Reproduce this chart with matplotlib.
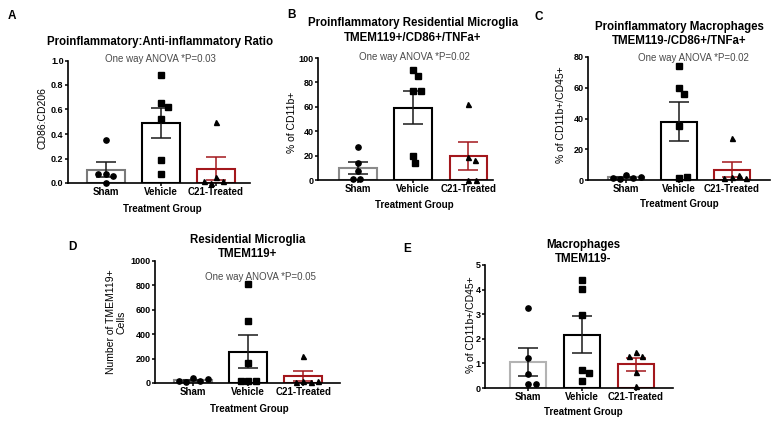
import numpy as np
import matplotlib
matplotlib.use('Agg')
import matplotlib.pyplot as plt

plt.rcParams['font.family'] = ['Liberation Sans', 'DejaVu Sans']

# ---------------- data ----------------
groups = ['Sham', 'Vehicle', 'C21-Treated']

a_sham = [0.35, 0.07, 0.06, 0.07, 0.0]
a_vehicle = [0.88, 0.65, 0.62, 0.52, 0.19, 0.07]
a_c21 = [0.50, 0.05, 0.02, 0.0, 0.02]

b_sham = [27, 14, 7, 1, 1]
b_vehicle = [90, 85, 73, 73, 20, 14]
b_c21 = [62, 19, 16, 0, 0]

c_sham = [3.5, 1.5, 0.5, 1.0, 2.0]
c_vehicle = [74, 60, 56, 35, 1, 2]
c_c21 = [27, 2, 3, 1, 1]

d_sham = [40, 20, 5, 15, 30]
d_vehicle = [810, 505, 160, 20, 15, 20]
d_c21 = [220, 20, 10, 5, 15]

e_sham = [3.25, 1.2, 0.55, 0.15, 0.15]
e_vehicle = [4.37, 4.02, 2.95, 0.75, 0.6, 0.27]
e_c21 = [1.48, 1.3, 1.3, 0.65, 0.08]

anova = ['One way ANOVA *P=0.03', 'One way ANOVA *P=0.02',
         'One way ANOVA *P=0.02', 'One way ANOVA *P=0.05', None]
titles = ['Proinflammatory:Anti-inflammatory Ratio',
          'Proinflammatory Residential Microglia\nTMEM119+/CD86+/TNFa+',
          'Proinflammatory Macrophages\nTMEM119-/CD86+/TNFa+',
          'Residential Microglia\nTMEM119+',
          'Macrophages\nTMEM119-']
ylabels = ['CD86:CD206', '% of CD11b+', '% of CD11b+/CD45+',
           'Number of TMEM119+\nCells', '% of CD11b+/CD45+']
letters = ['A', 'B', 'C', 'D', 'E']
xlabel = 'Treatment Group'

# ---------------- layout (pixels) ----------------
W, H = 784, 424
fig = plt.figure(figsize=(W / 100, H / 100), dpi=100)

RED = '#a3171c'
DARK = '#1a1a1a'
ANN = '#4a4a4a'

panels = [
    dict(data=[a_sham, a_vehicle, a_c21], box=(68, 250, 60.5, 183), xlim=(-0.69, 2.62),
         ymax=1.0, ystep=0.2, fmt='{:.1f}', sham_col='#7a7a7a',
         letter=(12, 16), title=(160, 42), ann=(160, 59), ylab=(43, 118), xlab=(162, 209)),
    dict(data=[b_sham, b_vehicle, b_c21], box=(318, 493, 58, 180), xlim=(-0.73, 2.45),
         ymax=100, ystep=20, fmt='{:.0f}', sham_col='#8a8a8a',
         letter=(292, 15), title=(413, 30.5), ann=(414, 57.5), ylab=(292, 122), xlab=(414, 205)),
    dict(data=[c_sham, c_vehicle, c_c21], box=(588, 770, 57, 180), xlim=(-0.72, 2.72),
         ymax=80, ystep=20, fmt='{:.0f}', sham_col='#8a8a8a',
         letter=(539, 16.5), title=(679, 34), ann=(693, 58), ylab=(561, 115), xlab=(679, 204)),
    dict(data=[d_sham, d_vehicle, d_c21], box=(155, 340, 261, 383), xlim=(-0.69, 2.67),
         ymax=1000, ystep=200, fmt='{:.0f}', sham_col='#8a8a8a',
         letter=(72.5, 247.5), title=(248, 247), ann=(260, 277), ylab=(116.5, 322), xlab=(249, 409)),
    dict(data=[e_sham, e_vehicle, e_c21], box=(485, 673, 265, 388), xlim=(-0.8, 2.69),
         ymax=5, ystep=1, fmt='{:.0f}', sham_col='#b3b3b3',
         letter=(407, 249), title=(583, 252), ann=None, ylab=(470.5, 325), xlab=(583.5, 412)),
]

markers = ['o', 's', '^']
msizes = [3.8, 3.8, 3.6]


def ftext(x, y, s, **kw):
    fig.text(x / W, 1 - y / H, s, ha='center', va='center', **kw)


def swarm(ax, xc, values, d):
    """Simple beeswarm in pixel space: spread colliding points sideways."""
    tr = ax.transData
    placed = []
    xs = []
    for v in values:
        px, py = tr.transform((xc, v))
        best = None
        k = 0
        while best is None:
            for sgn in ([0] if k == 0 else [1, -1]):
                x = px + sgn * k * 0.5
                if all((x - qx) ** 2 + (py - qy) ** 2 >= d * d for qx, qy in placed):
                    best = x
                    break
            k += 1
        placed.append((best, py))
        xs.append(tr.inverted().transform((best, py))[0])
    return xs


for i, p in enumerate(panels):
    l, r, t, b = p['box']
    ax = fig.add_axes([l / W, 1 - b / H, (r - l) / W, (b - t) / H])
    ax.set_xlim(*p['xlim'])
    ax.set_ylim(0, p['ymax'])
    for s in ['top', 'right']:
        ax.spines[s].set_visible(False)
    for s in ['left', 'bottom']:
        ax.spines[s].set_linewidth(1.2)
        ax.spines[s].set_color('black')
    ticks = np.arange(0, p['ymax'] + p['ystep'] / 2, p['ystep'])
    ax.set_yticks(ticks)
    ax.set_yticklabels([p['fmt'].format(v) for v in ticks], fontsize=6.5, fontweight='bold')
    ax.set_xticks(range(3))
    ax.set_xticklabels(groups, fontsize=7, fontweight='bold')
    ax.tick_params(axis='both', length=2, width=1.1, pad=1.2, direction='out')
    ax.patch.set_alpha(0)

    edge_cols = [p['sham_col'], 'black', RED]
    err_cols = [DARK, DARK, RED]
    for g, vals in enumerate(p['data']):
        vals = np.asarray(vals, dtype=float)
        mean = vals.mean()
        sem = vals.std(ddof=1) / np.sqrt(len(vals))
        ax.bar(g, mean, width=0.68, facecolor='white', edgecolor=edge_cols[g],
               linewidth=1.5, zorder=2)
        ax.errorbar(g, mean, yerr=sem, fmt='none', ecolor=err_cols[g], elinewidth=1.1,
                    capsize=7, capthick=1.1, zorder=3)
        xs = swarm(ax, g, vals, 7.5)
        ax.plot(xs, vals, linestyle='none', marker=markers[g], markersize=msizes[g],
                color='black', zorder=4, clip_on=False)

    ftext(*p['letter'], letters[i], fontsize=8.5, fontweight='bold')
    ftext(*p['title'], titles[i], fontsize=8.3, fontweight='bold', linespacing=1.25)
    if p['ann'] is not None:
        ftext(*p['ann'], anova[i], fontsize=7, color=ANN)
    ftext(*p['ylab'], ylabels[i], fontsize=7.5, rotation=90, linespacing=1.1)
    ftext(*p['xlab'], xlabel, fontsize=7, fontweight='bold')

fig.savefig('out.png', dpi=100, facecolor='white')
